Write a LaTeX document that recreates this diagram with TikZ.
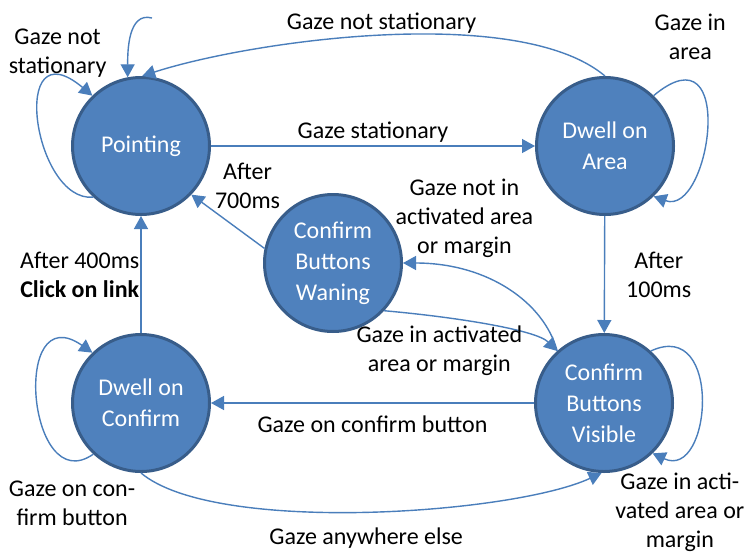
\documentclass[tikz,border=0pt]{standalone}
\usepackage{fontspec}
\setmainfont{Carlito}
\usetikzlibrary{arrows.meta,automata}
\definecolor{stfill}{RGB}{79,129,189}
\definecolor{stdraw}{RGB}{56,93,138}
\definecolor{edgeblue}{RGB}{74,126,187}

\begin{document}
\begin{tikzpicture}[->,>={Triangle[length=13pt,width=14pt]},x=1pt,y=1pt,
    node distance=464pt,font=\fontsize{24}{29}\selectfont]
\tikzstyle{every state}=[fill=stfill,draw=stdraw,line width=3pt,text=white,
    minimum size=137pt,inner sep=0pt,align=center,font=\fontsize{24}{31}\selectfont]
\tikzstyle{every edge}=[draw=edgeblue,line width=1.4pt]
\tikzstyle{lbl}=[align=center,inner sep=1pt,text=black]
\useasboundingbox (0,0) rectangle (746,-554);

\node[state]
    (P) at (141,-146) {Pointing};
\node[state]
    (A) [right of=P] {Dwell on\\Area};
\node[state,node distance=257pt]
    (C) [below of=P] {Dwell on\\Confirm};
\node[state,node distance=463pt]
    (V) [right of=C] {Confirm\\Buttons\\Visible};
\node[state]
    (W) at (333,-263) {Confirm\\Buttons\\Waning};
\coordinate (s) at (152,-18);

\path (s) edge [out=165,in=90] (P.101)
      (P) edge node[lbl,above=2pt] {Gaze stationary} (A)
      (P.227) edge [out=185,in=140,out distance=60pt,in distance=110pt]
              node[lbl,pos=0.85,anchor=south,xshift=-4pt] {Gaze not\\stationary} (P.134)
      (A.north) edge [out=140,in=18,looseness=0.63]
              node[lbl,above] {Gaze not stationary} (P.89)
      (A.46) edge [out=40,in=-20,out distance=110pt,in distance=60pt]
              node[lbl,pos=0.15,anchor=south,xshift=6pt,yshift=19pt] {Gaze in\\area} (A.-46)
      (A) edge node[lbl,right=20pt] {After\\100ms} (V)
      (V) edge node[lbl,below=11pt] {Gaze on confirm button} (C)
      (C.south) edge [out=-40,in=205,looseness=0.54]
              node[lbl,below=14pt] {Gaze anywhere else} (V.268)
      (C.227) edge [out=215,in=145,out distance=80pt,in distance=100pt]
              node[lbl,pos=0.1,anchor=north,xshift=-3pt,yshift=-18pt] {Gaze on con-\\firm button} (C.134)
      (V.48) edge [out=25,in=-25,out distance=80pt,in distance=65pt]
              node[lbl,pos=0.9,anchor=north,xshift=11pt,yshift=-15pt] {Gaze in acti-\\vated area or\\margin} (V.-46)
      (C) edge node[lbl,left] {After 400ms\\\textbf{Click on link}} (P)
      (W.168) edge node[lbl,pos=0.7,anchor=south west] {After\\700ms} (P.-44)
      (W.-43) edge [out=-5,in=135,out distance=70pt,in distance=30pt]
              node[lbl,pos=0.3,anchor=north,xshift=-9pt,yshift=-6pt] {Gaze in activated\\area or margin} (V.132)
      (V.132) edge [out=105,in=0,out distance=50pt,in distance=85pt]
              node[lbl,pos=0.8,anchor=south,xshift=14pt,yshift=8pt] {Gaze not in\\activated area\\or margin} (W.east);
\end{tikzpicture}
\end{document}
